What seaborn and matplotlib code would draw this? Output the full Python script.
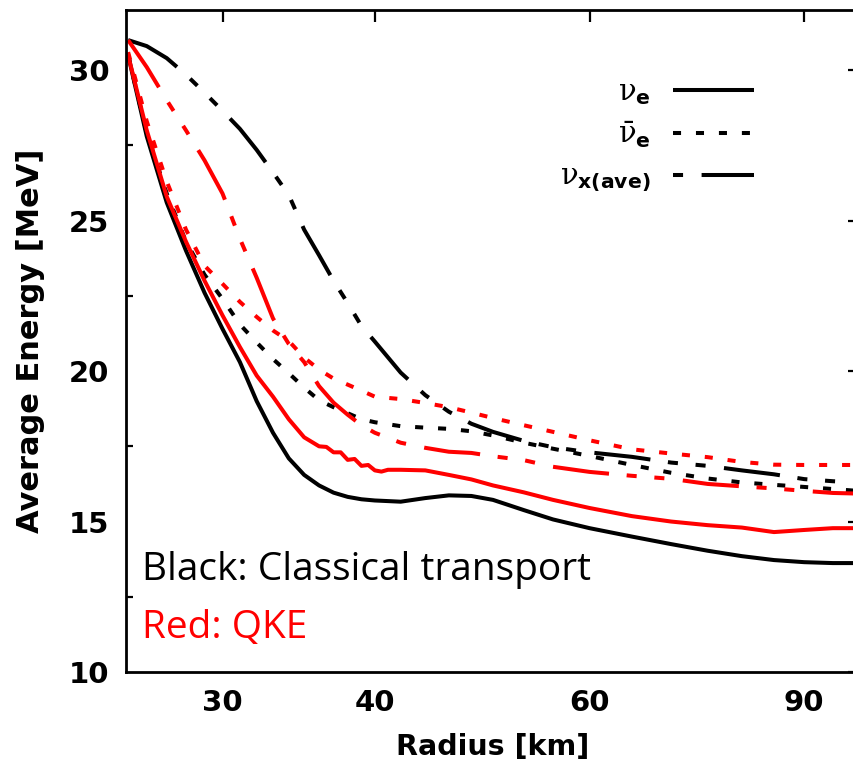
import numpy as np
import pandas as pd
import matplotlib
matplotlib.use("Agg")
import matplotlib.pyplot as plt
from matplotlib.lines import Line2D
from matplotlib.ticker import FixedLocator, FixedFormatter, NullLocator
import seaborn as sns

# ---------------- data ----------------
r_grid = [25.1, 26, 27, 28, 29, 30, 31, 32, 33, 34, 35, 36, 37, 38, 39, 40,
          42, 44, 46, 48, 50, 53, 56, 60, 65, 70, 75, 80, 85, 90, 95, 99.5]

# Classical transport (black)
cl_nue = [30.5, 27.8, 25.6, 24.0, 22.6, 21.4, 20.3, 19.0, 17.95, 17.1, 16.55, 16.2,
          15.96, 15.82, 15.74, 15.7, 15.66, 15.78, 15.87, 15.85, 15.72, 15.38, 15.07,
          14.78, 14.5, 14.25, 14.03, 13.85, 13.72, 13.65, 13.62, 13.62]
cl_nuebar = [30.5, 27.9, 25.9, 24.3, 23.2, 22.4, 21.55, 20.95, 20.4, 19.93, 19.45,
             19.03, 18.8, 18.6, 18.4, 18.3, 18.17, 18.12, 18.08, 18.0, 17.86, 17.62,
             17.42, 17.18, 16.88, 16.62, 16.43, 16.3, 16.22, 16.15, 16.08, 16.02]
cl_nux = [31.0, 30.8, 30.4, 29.85, 29.25, 28.65, 28.05, 27.35, 26.6, 25.85, 24.7,
          23.85, 23.0, 22.26, 21.5, 20.98, 19.95, 19.2, 18.65, 18.25, 17.98, 17.68,
          17.47, 17.3, 17.15, 16.96, 16.85, 16.7, 16.57, 16.41, 16.34, 16.3]

# QKE (red)
r_qke_nue = [25.1, 26, 27, 28, 29, 30, 31, 32, 33, 34, 35, 36, 36.5, 37, 37.5, 38,
             38.5, 39, 39.5, 40, 40.5, 41, 42, 44, 46, 48, 50, 53, 56, 60, 65, 70,
             75, 80, 85, 90, 95, 99.5]
qke_nue = [30.5, 28.0, 25.8, 24.3, 23.0, 21.85, 20.8, 19.85, 19.15, 18.4, 17.8, 17.5,
           17.48, 17.3, 17.3, 17.05, 17.08, 16.85, 16.88, 16.7, 16.66, 16.72, 16.72,
           16.7, 16.55, 16.4, 16.2, 15.97, 15.72, 15.45, 15.18, 15.0, 14.88, 14.8,
           14.65, 14.72, 14.78, 14.78]
qke_nuebar = [30.6, 28.3, 26.3, 24.7, 23.5, 22.9, 22.3, 21.8, 21.35, 21.0, 20.45,
              20.05, 19.75, 19.55, 19.35, 19.15, 19.07, 18.94, 18.8, 18.62, 18.44,
              18.2, 17.98, 17.7, 17.4, 17.26, 17.14, 16.98, 16.89, 16.88, 16.88, 16.88]
qke_nux = [31.0, 30.1, 29.0, 28.0, 27.0, 25.9, 24.4, 23.1, 21.75, 20.9, 20.3, 19.5,
           18.95, 18.55, 18.2, 17.95, 17.62, 17.45, 17.32, 17.28, 17.17, 17.04, 16.82,
           16.65, 16.52, 16.42, 16.25, 16.17, 16.1, 16.02, 15.95, 15.93]

x_ticks = [30, 40, 60, 90]
x_ticklabels = ["30", "40", "60", "90"]
y_ticks = [10, 15, 20, 25, 30]
models = ["Classical", "QKE"]
species = ["nue", "nuebar", "nux"]
species_labels = [r"$\nu_{\mathbf{e}}$", r"$\bar{\nu}_{\mathbf{e}}$", r"$\nu_{\mathbf{x(ave)}}$"]

# ---------------- build long-form table ----------------
rows = []
for model, sp, rr, ee in [
    ("Classical", "nue", r_grid, cl_nue),
    ("Classical", "nuebar", r_grid, cl_nuebar),
    ("Classical", "nux", r_grid, cl_nux),
    ("QKE", "nue", r_qke_nue, qke_nue),
    ("QKE", "nuebar", r_grid, qke_nuebar),
    ("QKE", "nux", r_grid, qke_nux),
]:
    for r, e in zip(rr, ee):
        rows.append({"r": r, "E": e, "model": model, "species": sp})
df = pd.DataFrame(rows)

# ---------------- style ----------------
sns.set_style("white")
plt.rcParams["font.family"] = ["DejaVu Sans"]
plt.rcParams["mathtext.fontset"] = "custom"
plt.rcParams["mathtext.rm"] = "DejaVu Sans"
plt.rcParams["mathtext.it"] = "DejaVu Serif"
plt.rcParams["mathtext.bf"] = "DejaVu Sans:bold"
for key in ["text.color", "axes.labelcolor", "xtick.color", "ytick.color", "axes.edgecolor"]:
    plt.rcParams[key] = "black"

LW = 2.9
dot_pat = (2.0, 3.7)
dd_pat = (14.0, 4.4, 2.5, 4.4, 2.5, 4.6)
dash_map = {"nue": "", "nuebar": dot_pat, "nux": dd_pat}
palette = {"Classical": "black", "QKE": "#ff0000"}

fig = plt.figure(figsize=(8.54, 7.64), dpi=100)
ax = fig.add_axes([126 / 854, 92 / 764, 734 / 854, 662 / 764])

for model in models:
    sub = df[df["model"] == model]
    sns.lineplot(data=sub, x="r", y="E", units="species", style="species",
                 style_order=species, dashes=dash_map, color=palette[model],
                 estimator=None, sort=True, linewidth=LW, legend=False, ax=ax)

for line in ax.get_lines():
    line.set_dash_capstyle("butt")
    line.set_solid_capstyle("butt")

ax.set_xscale("log")
ax.set_xlim(25, 100)
ax.set_ylim(10, 32)
ax.xaxis.set_major_locator(FixedLocator(x_ticks))
ax.xaxis.set_major_formatter(FixedFormatter(x_ticklabels))
ax.xaxis.set_minor_locator(NullLocator())
ax.set_yticks(y_ticks)
ax.set_yticks([12.5, 17.5, 22.5, 27.5], minor=True)

for s in ax.spines.values():
    s.set_linewidth(2.0)
    s.set_color("black")

ax.tick_params(which="major", direction="in", length=8.5, width=1.6,
               top=True, right=True, labelsize=21, pad=12, colors="black")
ax.tick_params(which="minor", direction="in", length=5, width=1.6,
               top=False, right=False, bottom=False, left=True)
for lab in ax.get_xticklabels() + ax.get_yticklabels():
    lab.set_fontweight("bold")

ax.set_xlabel("Radius [km]", fontsize=20.5, fontweight="bold", labelpad=12, color="black")
ax.set_ylabel("Average Energy [MeV]", fontsize=22, fontweight="bold", labelpad=17, color="black")

# legend (black samples)
handles = [
    Line2D([], [], color="black", lw=LW, solid_capstyle="butt"),
    Line2D([], [], color="black", lw=LW, linestyle=(0, dot_pat), dash_capstyle="butt"),
    Line2D([], [], color="black", lw=LW, linestyle=(25.3, dd_pat), dash_capstyle="butt"),
]
leg = ax.legend(handles, species_labels, loc="upper right",
                bbox_to_anchor=(0.872, 0.915), frameon=False, markerfirst=False,
                fontsize=21, handlelength=2.8, labelspacing=0.45, handletextpad=0.75,
                borderaxespad=0)

ax.text(0.022, 0.139, "Black: Classical transport", transform=ax.transAxes,
        fontsize=28, family="Open Sans", color="black", va="baseline", ha="left")
ax.text(0.022, 0.051, "Red: QKE", transform=ax.transAxes,
        fontsize=28, family="Open Sans", color="#ff0000", va="baseline", ha="left")

fig.savefig("out.png", dpi=100)
